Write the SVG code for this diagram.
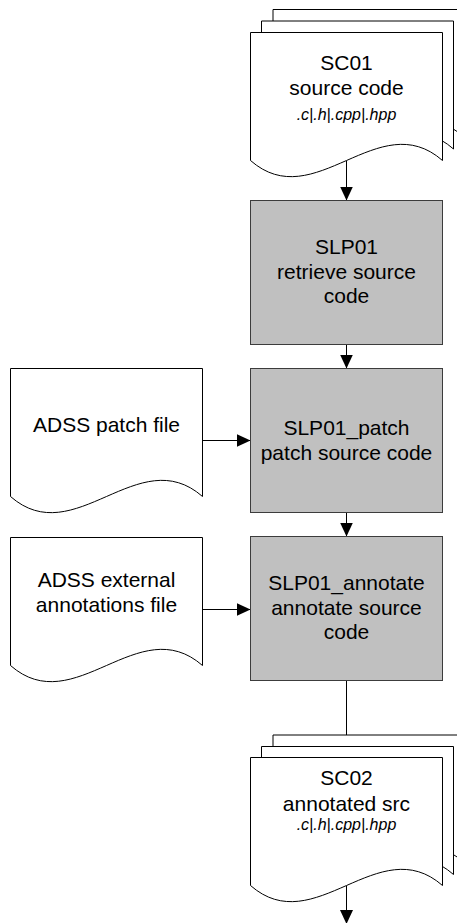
<svg xmlns="http://www.w3.org/2000/svg" width="457" height="923" viewBox="0 0 457 923">
  <style>
    .doc { fill: #ffffff; stroke: #000000; stroke-width: 1; }
    .proc { fill: #c0c0c0; stroke: #3c3c3c; stroke-width: 1; }
    .conn { fill: none; stroke: #000000; stroke-width: 1; marker-end: url(#arrow); }
    .t { font-family: "Liberation Sans", Arial, sans-serif; font-size: 21px; fill: #000000; text-anchor: middle; }
    .ext { font-family: "Liberation Sans", Arial, sans-serif; font-size: 16px; font-style: italic; fill: #000000; text-anchor: middle; }
  </style>
  <defs>
    <!-- document shape: flat top, wavy bottom -->
    <path id="docShape" d="M0,0 H192 V128 C128,72 64,184 0,128 Z"/>
    <marker id="arrow" markerUnits="userSpaceOnUse" markerWidth="14" markerHeight="14" viewBox="0 0 14 14" refX="14" refY="7" orient="auto">
      <path d="M0,0.5 L14,7 L0,13.5 Z" fill="#000000"/>
    </marker>
  </defs>

  <!-- connectors -->
  <g id="connectors">
    <line class="conn" x1="346.5" y1="160.5" x2="346.5" y2="200.5"/>
    <line class="conn" x1="346.5" y1="344.5" x2="346.5" y2="368.5"/>
    <line class="conn" x1="346.5" y1="512.5" x2="346.5" y2="536.5"/>
    <line class="conn" x1="346.5" y1="680.5" x2="346.5" y2="757.5"/>
    <line class="conn" x1="346.5" y1="885.5" x2="346.5" y2="924"/>
    <line class="conn" x1="202.5" y1="440.5" x2="250.5" y2="440.5"/>
    <line class="conn" x1="202.5" y1="609.5" x2="250.5" y2="609.5"/>
  </g>

  <!-- SC01 source code (stacked documents) -->
  <g id="SC01">
    <use href="#docShape" class="doc" transform="translate(273,9.5)"/>
    <use href="#docShape" class="doc" transform="translate(261.5,21)"/>
    <use href="#docShape" class="doc" transform="translate(250.5,32.5)"/>
    <text class="t" x="346.5" y="70">SC01</text>
    <text class="t" x="346.5" y="95">source code</text>
    <text class="ext" x="346.5" y="119.5">.c|.h|.cpp|.hpp</text>
  </g>

  <!-- SLP01 retrieve -->
  <g id="SLP01">
    <rect class="proc" x="250.5" y="200.5" width="192" height="144"/>
    <text class="t" x="346.5" y="254">SLP01</text>
    <text class="t" x="346.5" y="278.5">retrieve source</text>
    <text class="t" x="346.5" y="303">code</text>
  </g>

  <!-- ADSS patch file -->
  <g id="ADSS_patch">
    <use href="#docShape" class="doc" transform="translate(10.5,368.5)"/>
    <text class="t" x="106.5" y="431.5">ADSS patch file</text>
  </g>

  <!-- SLP01_patch -->
  <g id="SLP01_patch">
    <rect class="proc" x="250.5" y="368.5" width="192" height="144"/>
    <text class="t" x="346.5" y="435">SLP01_patch</text>
    <text class="t" x="346.5" y="459.5">patch source code</text>
  </g>

  <!-- ADSS external annotations file -->
  <g id="ADSS_annotations">
    <use href="#docShape" class="doc" transform="translate(10.5,537.5)"/>
    <text class="t" x="106.5" y="586.5">ADSS external</text>
    <text class="t" x="106.5" y="611.5">annotations file</text>
  </g>

  <!-- SLP01_annotate -->
  <g id="SLP01_annotate">
    <rect class="proc" x="250.5" y="536.5" width="192" height="144"/>
    <text class="t" x="346.5" y="589.5">SLP01_annotate</text>
    <text class="t" x="346.5" y="614.5">annotate source</text>
    <text class="t" x="346.5" y="639">code</text>
  </g>

  <!-- SC02 annotated src (stacked documents) -->
  <g id="SC02">
    <use href="#docShape" class="doc" transform="translate(273,735)"/>
    <use href="#docShape" class="doc" transform="translate(261.5,746.5)"/>
    <use href="#docShape" class="doc" transform="translate(250.5,757.5)"/>
    <text class="t" x="346.5" y="785">SC02</text>
    <text class="t" x="346.5" y="810.5">annotated src</text>
    <text class="ext" x="346.5" y="829.5">.c|.h|.cpp|.hpp</text>
  </g>
</svg>
